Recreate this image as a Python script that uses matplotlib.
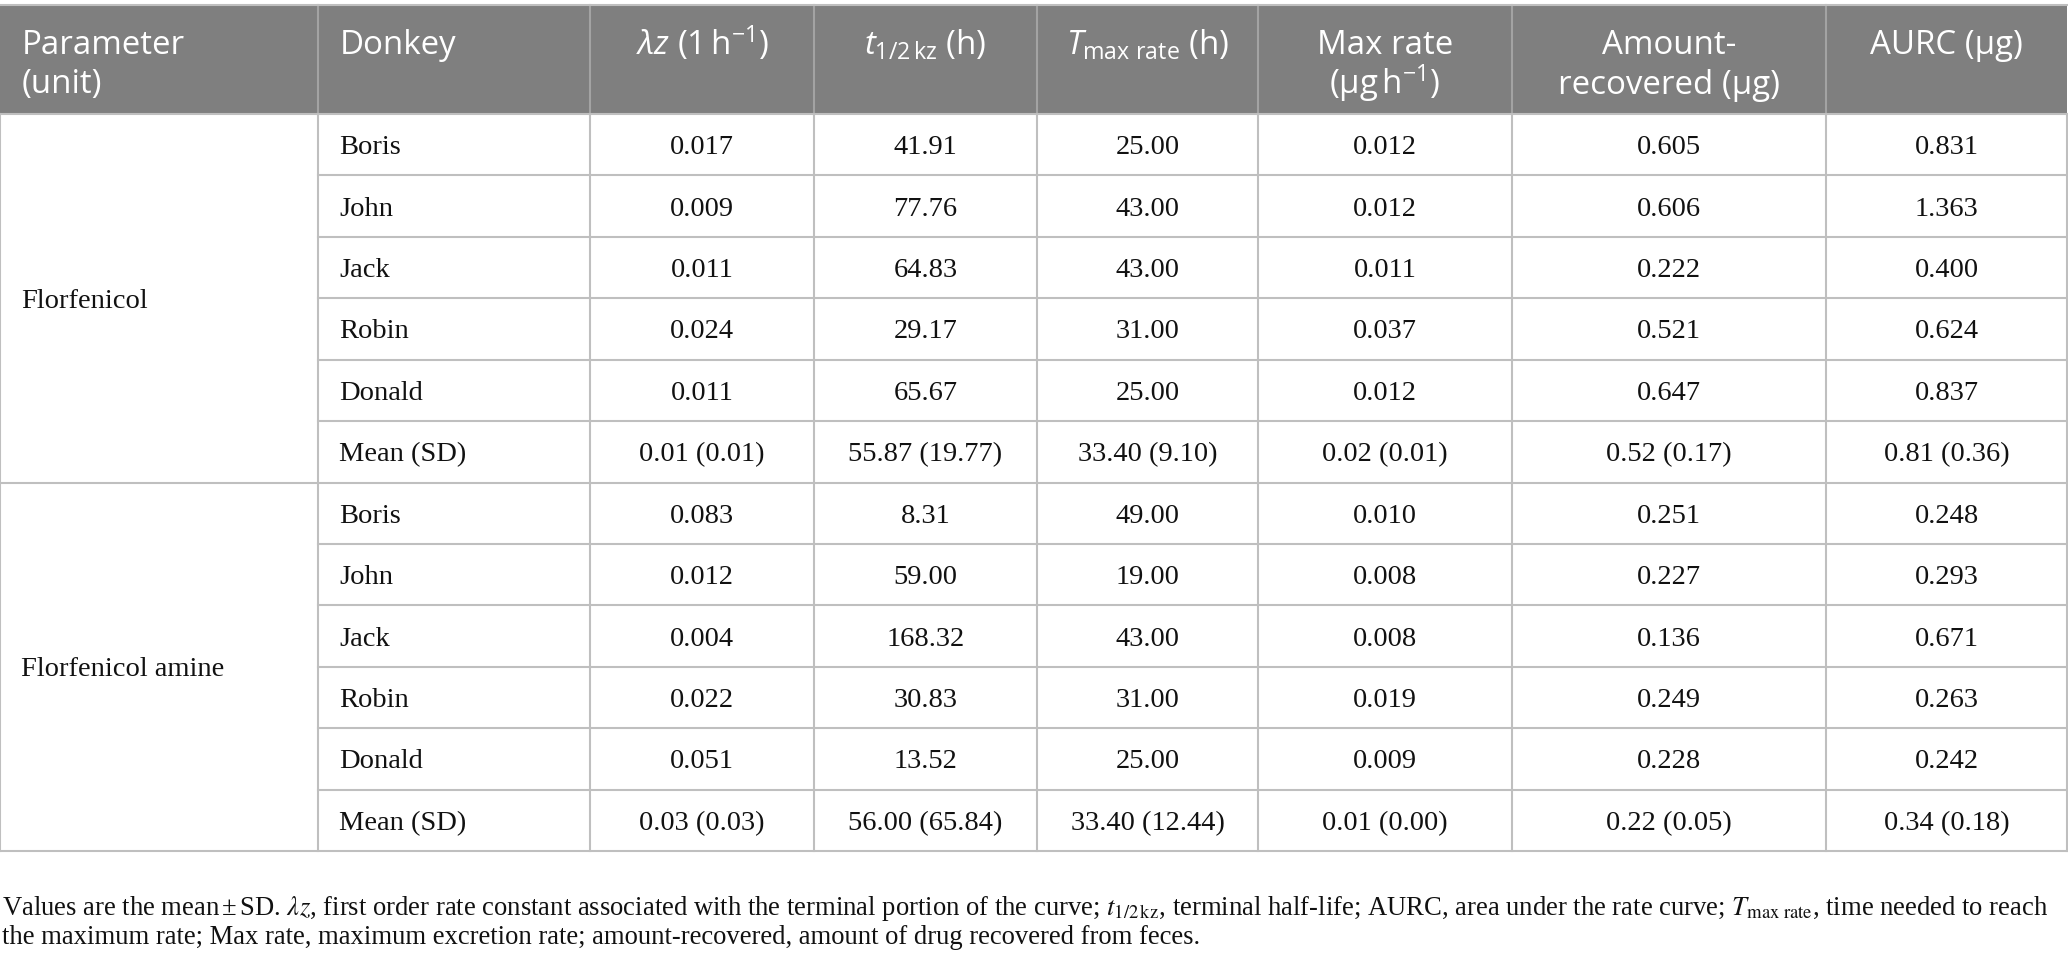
import matplotlib
matplotlib.use("Agg")
import matplotlib.pyplot as plt
from matplotlib.lines import Line2D
from matplotlib.patches import Rectangle

plt.rcParams['mathtext.fontset'] = 'custom'
plt.rcParams['mathtext.rm'] = 'Open Sans'
plt.rcParams['mathtext.it'] = 'Open Sans:italic'
plt.rcParams['mathtext.bf'] = 'Open Sans:bold'

# ---------------- data ----------------
header_line1 = ["Parameter", "Donkey", r"$\lambda z$ (1$\,$h$^{-1}$)", r"$t_{\mathrm{1/2\,kz}}$ (h)",
                r"$T_{\mathrm{max\ rate}}$ (h)", "Max rate", "Amount-", "AURC (μg)"]
header_line2 = ["(unit)", "", "", "", "", r"(μg$\,$h$^{-1}$)", "recovered (μg)", ""]

groups = ["Florfenicol", "Florfenicol amine"]
donkeys = ["Boris", "John", "Jack", "Robin", "Donald", "Mean (SD)"]

lambda_z_ff = ["0.017", "0.009", "0.011", "0.024", "0.011", "0.01 (0.01)"]
t_half_ff = ["41.91", "77.76", "64.83", "29.17", "65.67", "55.87 (19.77)"]
tmax_ff = ["25.00", "43.00", "43.00", "31.00", "25.00", "33.40 (9.10)"]
maxrate_ff = ["0.012", "0.012", "0.011", "0.037", "0.012", "0.02 (0.01)"]
amount_ff = ["0.605", "0.606", "0.222", "0.521", "0.647", "0.52 (0.17)"]
aurc_ff = ["0.831", "1.363", "0.400", "0.624", "0.837", "0.81 (0.36)"]

lambda_z_fa = ["0.083", "0.012", "0.004", "0.022", "0.051", "0.03 (0.03)"]
t_half_fa = ["8.31", "59.00", "168.32", "30.83", "13.52", "56.00 (65.84)"]
tmax_fa = ["49.00", "19.00", "43.00", "31.00", "25.00", "33.40 (12.44)"]
maxrate_fa = ["0.010", "0.008", "0.008", "0.019", "0.009", "0.01 (0.00)"]
amount_fa = ["0.251", "0.227", "0.136", "0.249", "0.228", "0.22 (0.05)"]
aurc_fa = ["0.248", "0.293", "0.671", "0.263", "0.242", "0.34 (0.18)"]

footnote_line1 = (r"Values are the mean$\,$±$\,$SD. $\lambda z$, first order rate constant associated with the "
                  r"terminal portion of the curve; $t_{\mathrm{1/2\,kz}}$, terminal half-life; AURC, area under "
                  r"the rate curve; $T_{\mathrm{max\ rate}}$, time needed to reach")
footnote_line2 = ("the maximum rate; Max rate, maximum excretion rate; amount-recovered, "
                  "amount of drug recovered from feces.")

group_cols = [
    [lambda_z_ff, t_half_ff, tmax_ff, maxrate_ff, amount_ff, aurc_ff],
    [lambda_z_fa, t_half_fa, tmax_fa, maxrate_fa, amount_fa, aurc_fa],
]

# ---------------- layout ----------------
W, H = 2068, 966
col_edges = [0, 318, 590, 814, 1037, 1258, 1512, 1826, 2067]
table_top = 5
header_bottom = 114
table_bottom = 851
n_rows = 12
row_h = (table_bottom - header_bottom) / n_rows

header_bg = "#7f7f7f"
header_sep = "#a3a3a3"
grid_c = "#bfbfbf"
lw = 1.5

HEAD_FONT = "Open Sans"
BODY_FONT = "Liberation Serif"
head_size = 23.8
body_size = 20.5
foot_size = 19.2

fig = plt.figure(figsize=(W / 100, H / 100), dpi=100)
ax = fig.add_axes([0, 0, 1, 1])
ax.set_xlim(0, W)
ax.set_ylim(H, 0)
ax.axis("off")

# header background
ax.add_patch(Rectangle((0, table_top), col_edges[-1], header_bottom - table_top,
                       facecolor=header_bg, edgecolor="none", zorder=1))
ax.add_line(Line2D([0, col_edges[-1]], [table_top, table_top], color=grid_c, lw=lw, zorder=3))
for x in col_edges[1:-1]:
    ax.add_line(Line2D([x, x], [table_top, header_bottom], color=header_sep, lw=lw, zorder=2))

# header text
for i, (l1, l2) in enumerate(zip(header_line1, header_line2)):
    if i < 2:
        x = col_edges[i] + 22
        ha = "left"
    else:
        x = (col_edges[i] + col_edges[i + 1]) / 2
        ha = "center"
    ax.text(x, 54.5, l1, ha=ha, va="baseline", color="white", family=HEAD_FONT,
            fontsize=head_size, math_fontfamily="custom", zorder=4)
    if l2:
        ax.text(x, 93.5, l2, ha=ha, va="baseline", color="white", family=HEAD_FONT,
                fontsize=head_size, math_fontfamily="custom", zorder=4)

# grid lines
ax.add_line(Line2D([0, col_edges[-1]], [header_bottom, header_bottom], color=grid_c, lw=lw, zorder=3))
for r in range(1, n_rows + 1):
    y = header_bottom + r * row_h
    x0 = 0 if r % 6 == 0 else col_edges[1]
    ax.add_line(Line2D([x0, col_edges[-1]], [y, y], color=grid_c, lw=lw, zorder=3))
for x in col_edges:
    ax.add_line(Line2D([x, x], [header_bottom, table_bottom], color=grid_c, lw=lw, zorder=3))

# body text
for g, (gname, cols) in enumerate(zip(groups, group_cols)):
    gy = header_bottom + (g * 6 + 3) * row_h
    ax.text(21, gy + 9.5, gname, ha="left", va="baseline", family=BODY_FONT,
            fontsize=body_size, color="#111111")
    for r, dname in enumerate(donkeys):
        yc = header_bottom + (g * 6 + r + 0.5) * row_h
        ax.text(col_edges[1] + 21, yc + 9.5, dname, ha="left", va="baseline",
                family=BODY_FONT, fontsize=body_size, color="#111111")
        for c, vals in enumerate(cols):
            xc = (col_edges[c + 2] + col_edges[c + 3]) / 2
            ax.text(xc, yc + 9.5, vals[r], ha="center", va="baseline",
                    family=BODY_FONT, fontsize=body_size, color="#111111")

# footnote
ax.text(2, 915, footnote_line1, ha="left", va="baseline", family=BODY_FONT,
        fontsize=foot_size, math_fontfamily="stix", color="#111111")
ax.text(2, 944, footnote_line2, ha="left", va="baseline", family=BODY_FONT,
        fontsize=foot_size, math_fontfamily="stix", color="#111111")

fig.savefig("out.png", dpi=100, facecolor="white")
